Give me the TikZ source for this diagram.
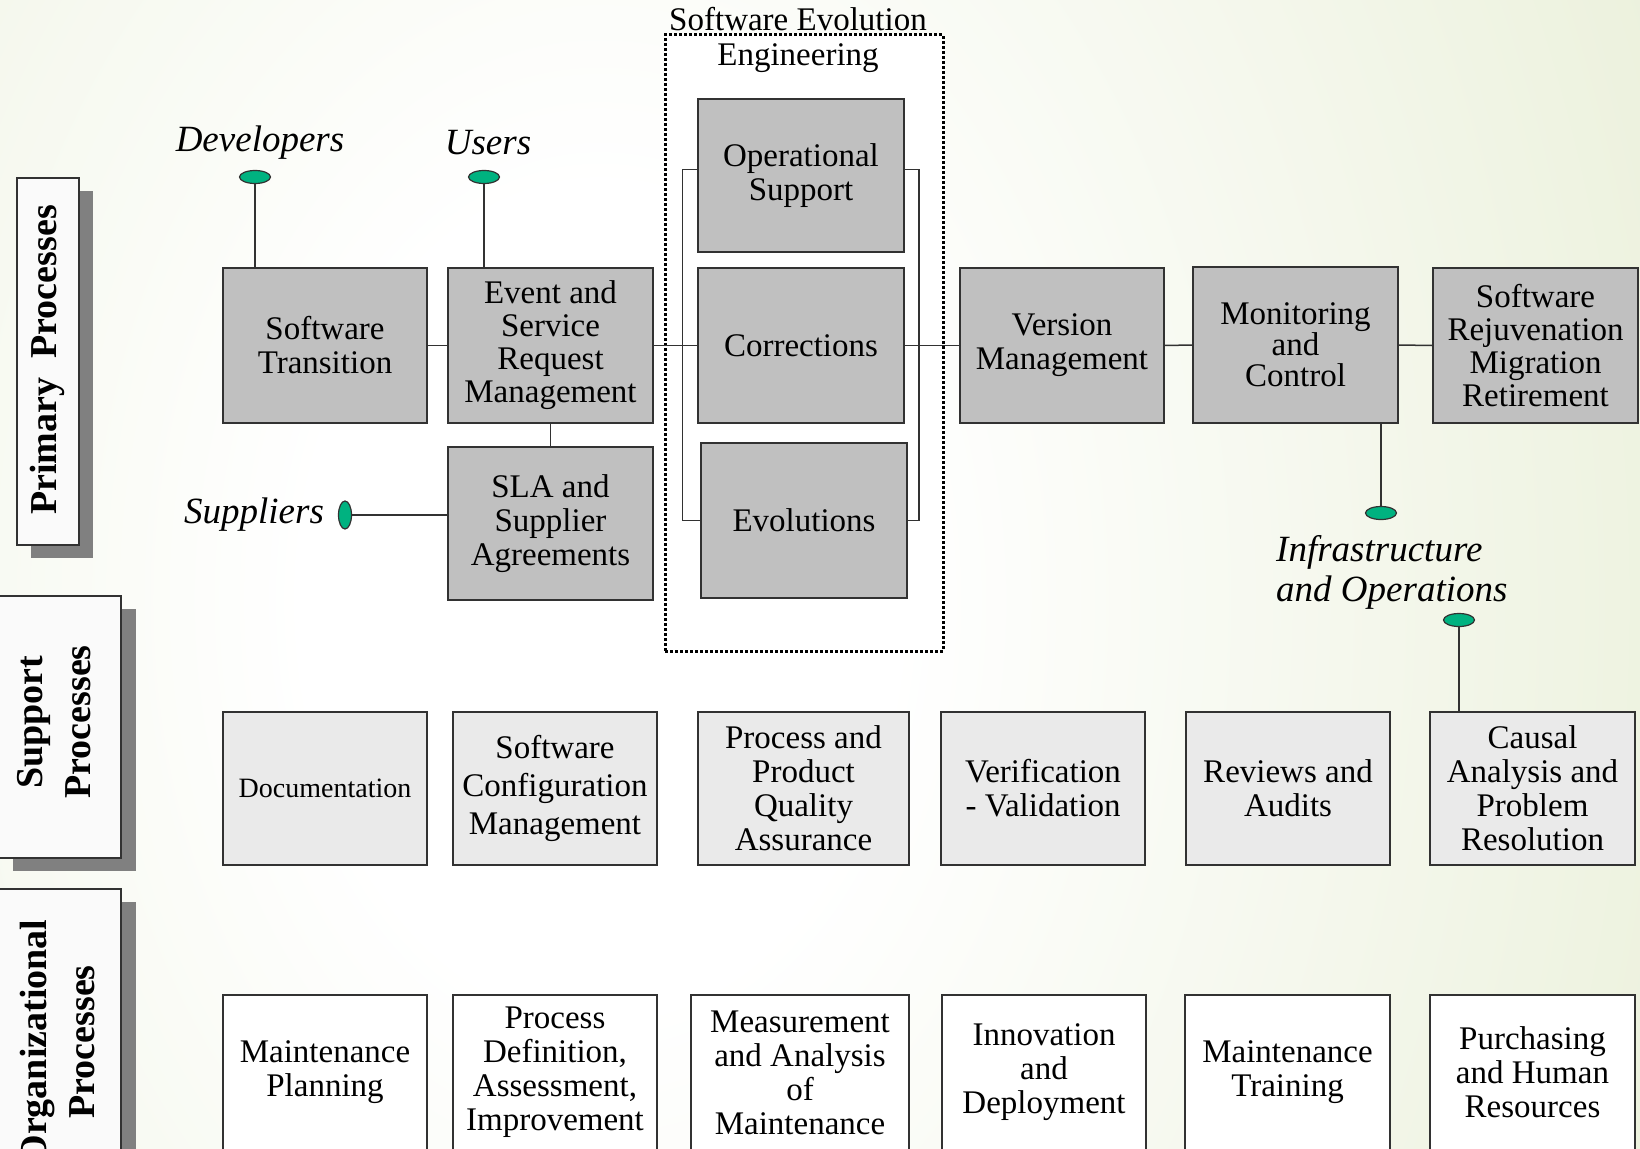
\documentclass[tikz,border=0pt]{standalone}
\usepackage{fontspec}
\setmainfont{Liberation Serif}
\usetikzlibrary{shapes.geometric}
\definecolor{bggreen}{RGB}{222,231,196}
\definecolor{dgray}{RGB}{192,192,192}
\definecolor{lgray}{RGB}{234,234,234}
\definecolor{tealdot}{RGB}{0,178,128}
\definecolor{shadowgray}{RGB}{128,128,128}
\definecolor{edge}{RGB}{50,50,50}
\pgfdeclareradialshading{bgshade}{\pgfpoint{0bp}{0bp}}{color(0bp)=(white); color(7bp)=(white); color(42bp)=(bggreen); color(72bp)=(bggreen)}
\begin{document}
\begin{tikzpicture}[x=1pt,y=-1pt,
 box/.style={draw=edge, line width=1.5pt, inner sep=0pt, align=center, font=\fontsize{33}{34}\selectfont},
 pbox/.style={box, fill=dgray, minimum width=205, minimum height=155},
 sbox/.style={box, fill=lgray, minimum width=205, minimum height=153},
 obox/.style={box, fill=white, minimum width=205, minimum height=155},
 actor/.style={font=\fontsize{37}{40}\selectfont\itshape, inner sep=0pt, align=left},
 dot/.style={ellipse, draw=edge, line width=1.2pt, fill=tealdot, minimum width=31, minimum height=13, inner sep=0pt},
 link/.style={draw=edge, line width=1.5pt},
 lbl/.style={draw=edge, line width=1.5pt, fill=black!2, inner sep=0pt},
 shadowbox/.style={fill=shadowgray, inner sep=0pt},
 lbltext/.style={font=\fontsize{38}{48}\selectfont\bfseries, align=center, rotate=90, inner sep=0pt}
]
\useasboundingbox (0,0) rectangle (1640,1148);
\shade[shading=bgshade] (-450,-850) rectangle (1650,2050);

% side labels
\node[shadowbox, minimum width=62, minimum height=367] (plabs) at (62,374.5) {};
\node[lbl, minimum width=62, minimum height=367] (plab) at (48,361.5) {};
\node[lbltext] (plabt) at (47,360) {Primary\ \ Processes};
\node[shadowbox, minimum width=123, minimum height=262] (slabs) at (74.5,740) {};
\node[lbl, minimum width=123, minimum height=262] (slab) at (59.5,727) {};
\node[lbltext] (slabt) at (54,722) {Support\\Processes};
\node[shadowbox, minimum width=123, minimum height=281] (olabs) at (74.5,1042.5) {};
\node[lbl, minimum width=123, minimum height=281] (olab) at (59.5,1029.5) {};
\node[lbltext] (olabt) at (58,1042) {Organizational\\Processes};

% software evolution engineering frame
\node[draw=black, fill=white, line width=3pt, dash pattern=on 3pt off 2pt, minimum width=278, minimum height=616, inner sep=0pt] (see) at (804,343) {};
\node[font=\fontsize{33}{35}\selectfont, align=center, inner sep=0pt] (seet) at (798,40) {Software Evolution\\Engineering};

% primary row
\node[pbox, minimum width=204] (st) at (325,345.5) {Software\\Transition};
\node[pbox, font=\fontsize{33}{33}\selectfont] (esr) at (550.5,345.5) {Event and\\Service\\Request\\Management};
\node[pbox, minimum height=153] (sla) at (550.5,523.5) {SLA and\\Supplier\\Agreements};
\node[pbox, minimum width=206, minimum height=153] (ops) at (801,175.5) {Operational\\Support};
\node[pbox, minimum width=206] (cor) at (801,345.5) {Corrections};
\node[pbox, minimum width=206] (evo) at (804,520.5) {Evolutions};
\node[pbox, minimum width=204] (vm) at (1062,345.5) {Version\\Management};
\node[pbox, minimum height=156, font=\fontsize{33}{31}\selectfont] (mc) at (1295.5,345) {Monitoring\\and\\Control};
\node[pbox, font=\fontsize{33}{33}\selectfont] (srm) at (1535.5,345.5) {Software\\Rejuvenation\\Migration\\Retirement};

% actors
\node[actor] (devt) at (260,143) {Developers};
\node[dot] (dev) at (255,177) {};
\node[actor] (usrt) at (488,143) {Users};
\node[dot] (usr) at (484,177) {};
\node[actor] (supt) at (254,515) {Suppliers};
\node[dot, minimum width=13, minimum height=28] (sup) at (345,515) {};
\node[dot] (inf1) at (1381,513) {};
\node[actor, anchor=west] (inft) at (1276,572) {Infrastructure\\and Operations};
\node[dot] (inf2) at (1459,620) {};

% support row
\node[sbox, minimum width=204, font=\fontsize{28}{32}\selectfont] (doc) at (325,788.5) {Documentation};
\node[sbox, minimum width=204, font=\fontsize{33}{38}\selectfont] (scm) at (555,788.5) {Software\\Configuration\\Management};
\node[sbox, minimum width=211] (ppqa) at (803.5,788.5) {Process and\\Product\\Quality\\Assurance};
\node[sbox, minimum width=204] (vv) at (1043,788.5) {Verification\\- Validation};
\node[sbox, minimum width=204] (ra) at (1288,788.5) {Reviews and\\Audits};
\node[sbox] (ca) at (1532.5,788.5) {Causal\\Analysis and\\Problem\\Resolution};

% organizational row
\node[obox, minimum width=204] (mp) at (325,1072.5) {Maintenance\\Planning};
\node[obox, minimum width=204] (pda) at (555,1072.5) {Process\\Definition,\\Assessment,\\Improvement};
\node[obox, minimum width=218] (mam) at (800,1072.5) {Measurement\\and Analysis\\of\\Maintenance};
\node[obox, minimum width=204] (inn) at (1044,1072.5) {Innovation\\and\\Deployment};
\node[obox] (mt) at (1287.5,1072.5) {Maintenance\\Training};
\node[obox] (phr) at (1532.5,1072.5) {Purchasing\\and Human\\Resources};

% connectors
\draw[link] (st.east) -- (esr.west);
\draw[link] (esr.east) -- (cor.west);
\draw[link] (cor.east) -- (vm.west);
\draw[link] (vm.east) -- (mc.west);
\draw[link] (mc.east) -- (srm.west);
\draw[link] (esr.south -| sla.north) -- (sla.north);
\draw[link] ([yshift=6pt]ops.west) -- ++(-15,0) |- (evo.west);
\draw[link] ([yshift=6pt]ops.east) -- ++(14,0) |- (evo.east);
\draw[link] (dev.south) -- (st.north -| dev);
\draw[link] (usr.south) -- (esr.north -| usr);
\draw[link] (sup.east) -- (sla.west |- sup);
\draw[link] (mc.south -| inf1) -- (inf1.north);
\draw[link] (inf2.south) -- (ca.north -| inf2);
\end{tikzpicture}
\end{document}
